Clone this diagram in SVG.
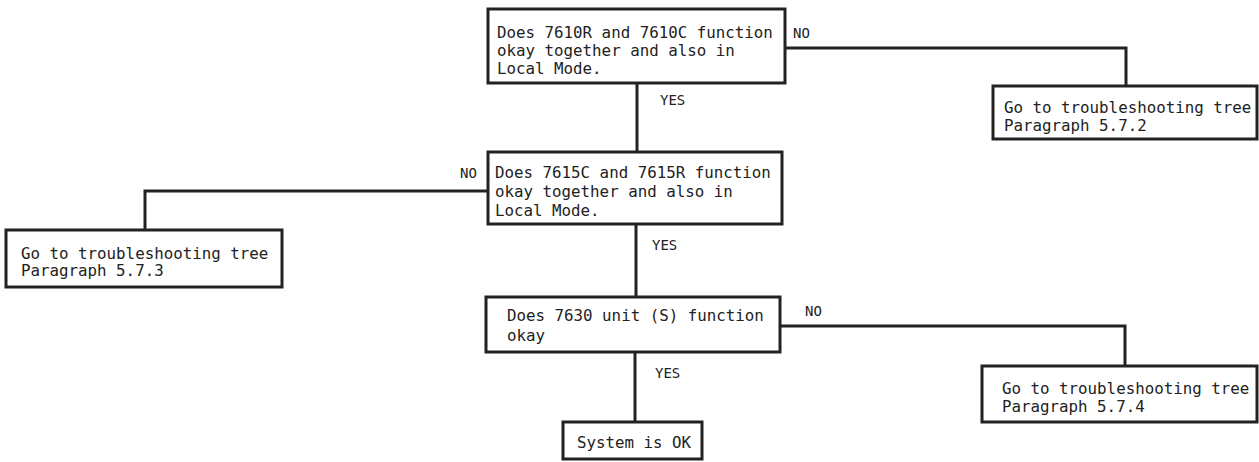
<svg xmlns="http://www.w3.org/2000/svg" width="1259" height="462" viewBox="0 0 1259 462">
<style>
.box{fill:#ffffff;stroke:#222;stroke-width:3}
.con{fill:none;stroke:#222;stroke-width:3}
.t{font-family:"DejaVu Sans Mono","Liberation Mono",monospace;font-size:15.8px;fill:#222}
.lbl{font-family:"DejaVu Sans Mono","Liberation Mono",monospace;font-size:14px;fill:#222}
</style>
<rect width="1259" height="462" fill="#ffffff"/>
<g id="connectors">
<polyline class="con" points="785,48 1126,48 1126,86"/>
<polyline class="con" points="637,83 637,152"/>
<polyline class="con" points="488,191 145,191 145,230"/>
<polyline class="con" points="636,224 636,297"/>
<polyline class="con" points="780,326 1125,326 1125,366"/>
<polyline class="con" points="635,352 635,422"/>
<text class="lbl" x="793" y="38">NO</text>
<text class="lbl" x="660" y="105">YES</text>
<text class="lbl" x="460" y="178">NO</text>
<text class="lbl" x="652" y="250">YES</text>
<text class="lbl" x="805" y="316">NO</text>
<text class="lbl" x="655" y="378">YES</text>
</g>
<g id="q1">
<rect class="box" x="488" y="9" width="297" height="74"/>
<text class="t" x="497" y="37.5">Does 7610R and 7610C function</text>
<text class="t" x="497" y="55.5">okay together and also in</text>
<text class="t" x="497" y="73.5">Local Mode.</text>
</g>
<g id="r572">
<rect class="box" x="993" y="86" width="264" height="53"/>
<text class="t" x="1004" y="112.5">Go to troubleshooting tree</text>
<text class="t" x="1004" y="130.5">Paragraph 5.7.2</text>
</g>
<g id="q2">
<rect class="box" x="488" y="152" width="294" height="72"/>
<text class="t" x="495" y="177.5">Does 7615C and 7615R function</text>
<text class="t" x="495" y="196.5">okay together and also in</text>
<text class="t" x="495" y="215.5">Local Mode.</text>
</g>
<g id="r573">
<rect class="box" x="6" y="230" width="276" height="57"/>
<text class="t" x="21" y="258.5">Go to troubleshooting tree</text>
<text class="t" x="21" y="275.5">Paragraph 5.7.3</text>
</g>
<g id="q3">
<rect class="box" x="486" y="297" width="294" height="55"/>
<text class="t" x="507" y="321">Does 7630 unit (S) function</text>
<text class="t" x="507" y="341">okay</text>
</g>
<g id="r574">
<rect class="box" x="982" y="366" width="275" height="56"/>
<text class="t" x="1002" y="393.5">Go to troubleshooting tree</text>
<text class="t" x="1002" y="411.5">Paragraph 5.7.4</text>
</g>
<g id="ok">
<rect class="box" x="563" y="422" width="139" height="37"/>
<text class="t" x="577" y="447.5">System is OK</text>
</g>
</svg>
